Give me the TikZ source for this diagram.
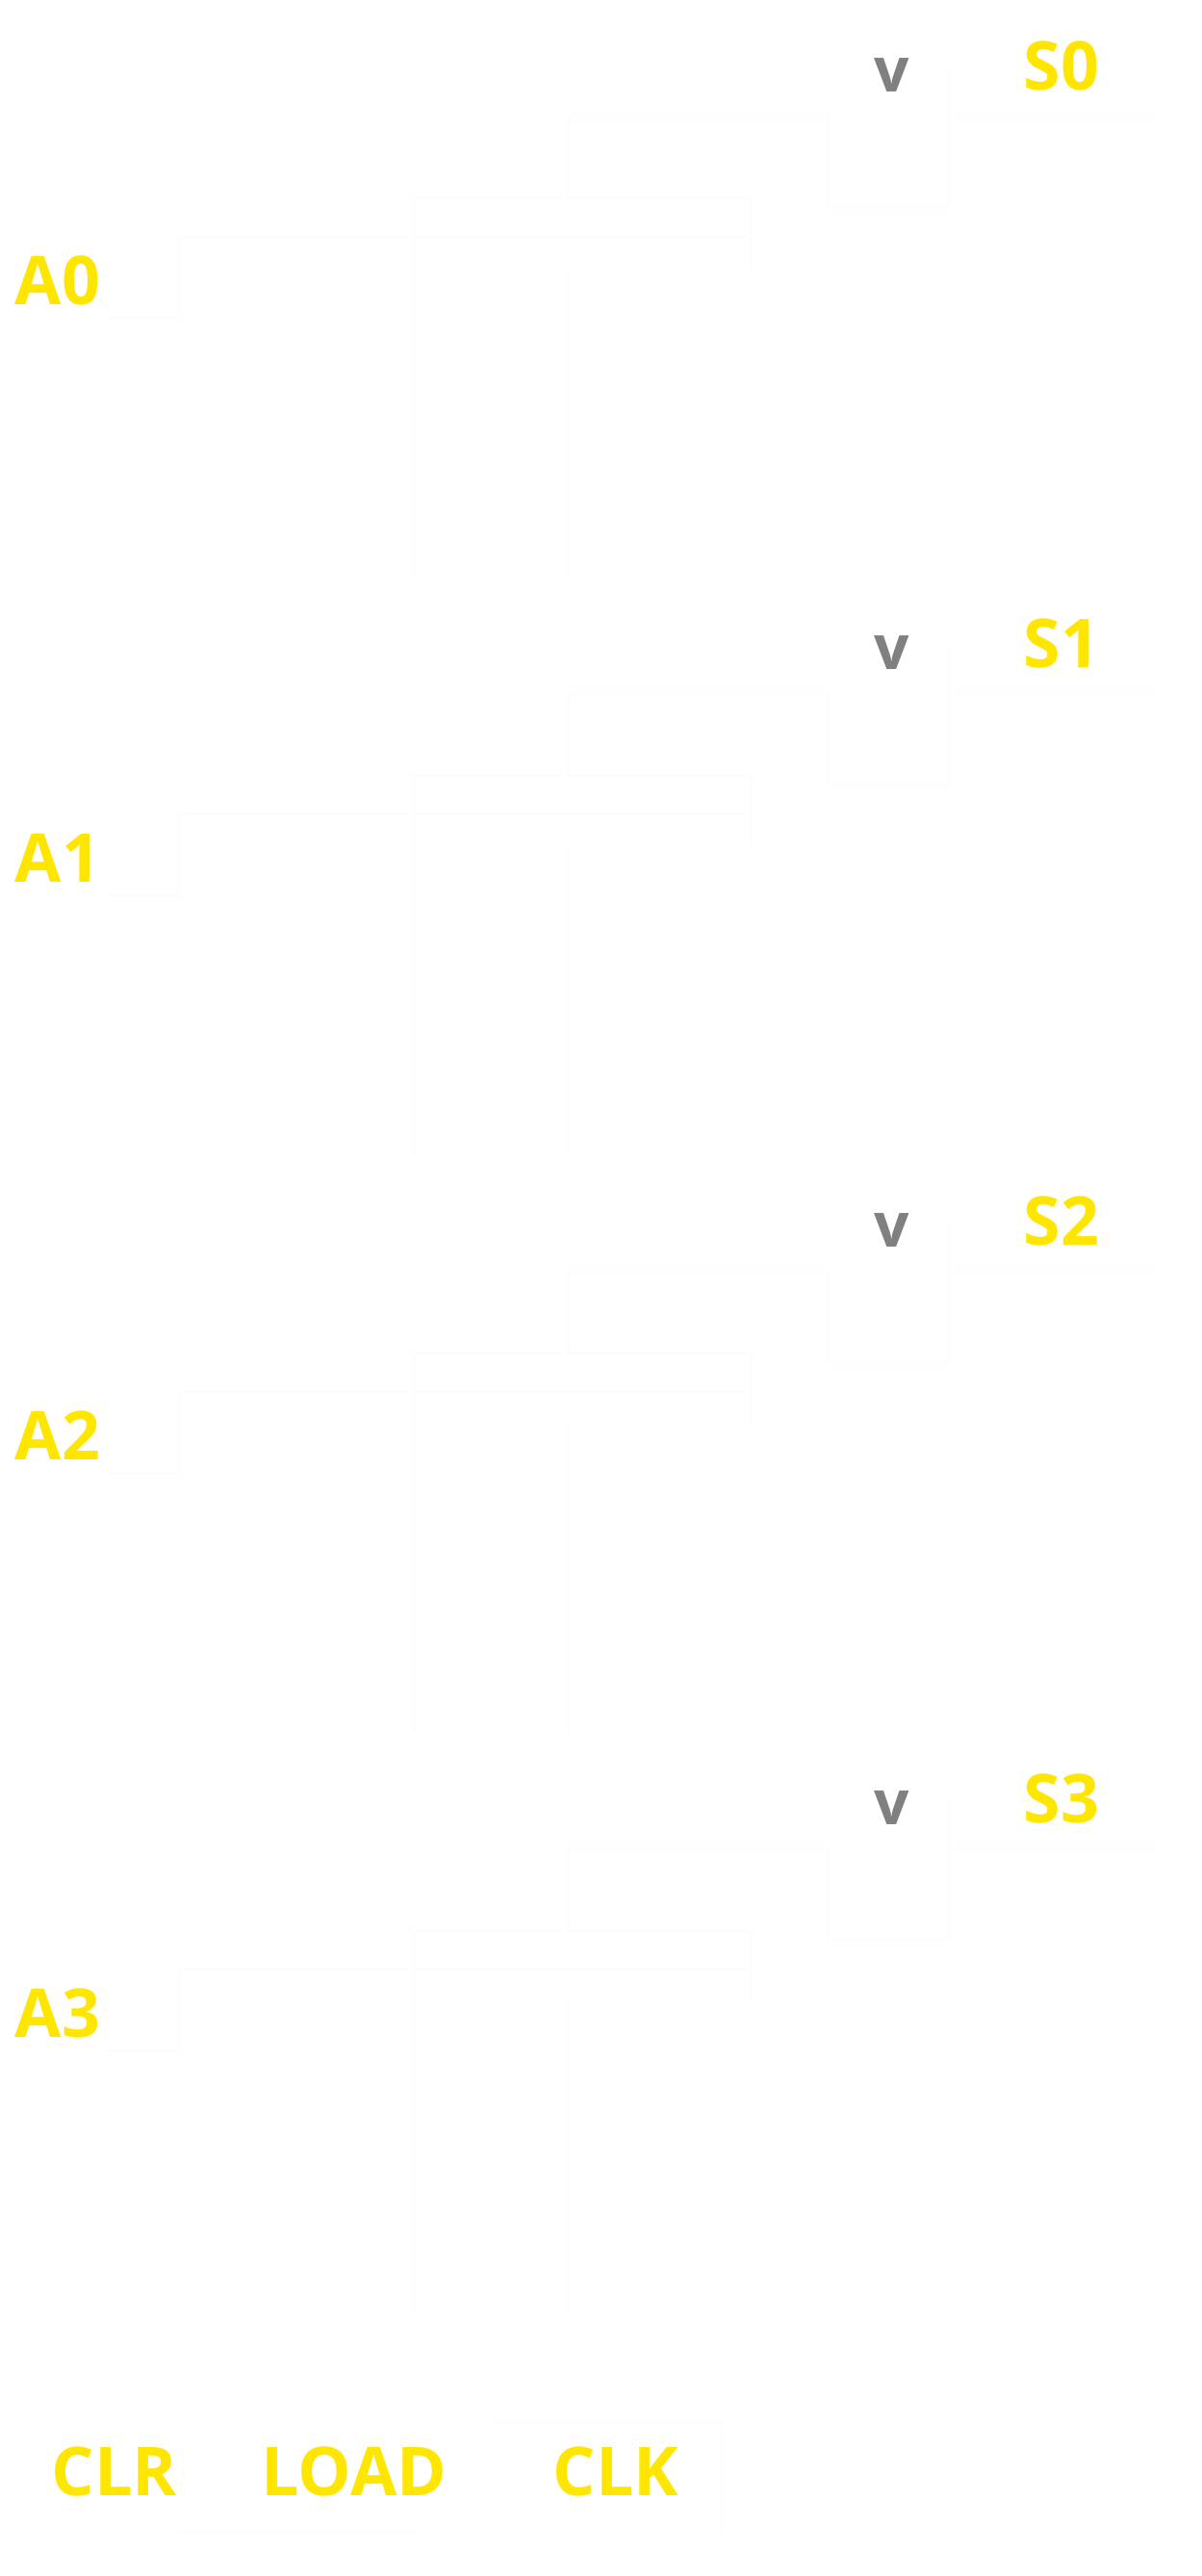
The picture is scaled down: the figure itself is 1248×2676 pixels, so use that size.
\documentclass[tikz,border=0pt]{standalone}
\usepackage{fontspec}
\setmainfont{Open Sans}
\definecolor{lab}{HTML}{FFE600}
\definecolor{vg}{HTML}{808080}
\definecolor{faint}{HTML}{FDFDFD}
\begin{document}
\begin{tikzpicture}[x=1pt,y=-1pt,
  lbl/.style={text=lab,font=\fontsize{70}{72}\selectfont\bfseries,inner sep=0pt},
  vv/.style={text=vg,font=\fontsize{64}{70}\selectfont\bfseries,inner sep=0pt},
  wire/.style={draw=faint,line width=3pt}]
\fill[white] (0,0) rectangle (1248,2676);
\useasboundingbox (0,0) rectangle (1248,2676);
\foreach \i/\dy in {0/0,1/600,2/1200,3/1800}{
  \begin{scope}[yshift=-\dy]
  \node[lbl] (S\i) at (1103,68) {S\i};
  \node[vv] (v\i) at (927,78) {v};
  \node[lbl] (A\i) at (60,291) {A\i};
  \draw[wire] (590,120) -- (860,120) -- (860,215) -- (985,215);
  \draw[wire] (985,70) -- (985,215);
  \draw[wire] (430,205) -- (780,205) -- (780,280);
  \draw[wire] (185,245) -- (780,245);
  \draw[wire] (185,245) -- (185,330) -- (110,330);
  \draw[wire] (590,120) -- (590,210);
  \draw[wire] (430,205) -- (430,600);
  \draw[wire] (590,280) -- (590,600);
  \draw[wire] (985,120) -- (1200,120);
  \end{scope}}
\node[lbl] (CLR) at (119,2567) {CLR};
\node[lbl] (LOAD) at (368,2567) {LOAD};
\node[lbl] (CLK) at (640,2567) {CLK};
\draw[wire] (185,2630) -- (430,2630);
\draw[wire] (510,2515) -- (750,2515) -- (750,2630);
\end{tikzpicture}
\end{document}
